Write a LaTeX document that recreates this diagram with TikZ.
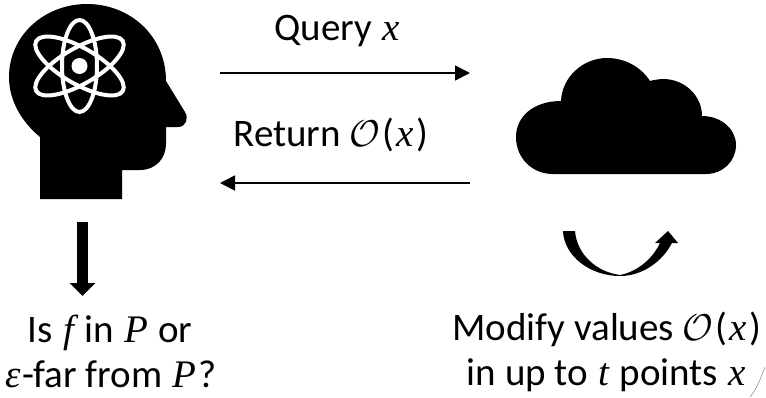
\documentclass[tikz,border=0pt]{standalone}
\usepackage{fontspec}
\usepackage{amsmath}
\setmainfont{Carlito}
\newfontfamily\varfont{Liberation Serif}
\newcommand{\var}[1]{{\varfont\itshape\kern1.5pt #1\kern1.5pt}}
\newcommand{\orcl}{\scalebox{1.5}{$\mathcal{O}$}\kern1pt}
\newcommand{\orclarg}[1]{\kern1pt(\kern1pt\var{#1}\kern1pt)}
\usetikzlibrary{arrows.meta}
\tikzset{label text/.style={font=\fontsize{39}{45}\selectfont,align=center,inner sep=0pt},
	thin arrow/.style={draw,line width=1.6pt,-{Triangle[length=15pt,width=15pt]}},
	atom line/.style={draw=white,line width=4pt},
}

\begin{document}
\begin{tikzpicture}[x=1pt,y=-1pt]
	\useasboundingbox (0,0) rectangle (766,397);
	% head
	\fill (40,199) -- (122,199) -- (122,170) -- (140,170)
		.. controls (156,170) and (166,158) .. (166,144) -- (166,127) -- (178,127)
		.. controls (186,127) and (189,118) .. (185,112) -- (166,81)
		.. controls (166,36) and (130,4) .. (87,4)
		.. controls (44,4) and (9,36) .. (9,77)
		.. controls (9,101) and (22,122) .. (40,137) -- cycle;
	% atom
	\draw[atom line] (79.5,66) ellipse [x radius=17.5,y radius=46];
	\draw[atom line,rotate around={60:(79.5,66)}] (79.5,66) ellipse [x radius=18,y radius=50];
	\draw[atom line,rotate around={-60:(79.5,66)}] (79.5,66) ellipse [x radius=18,y radius=50];
	\fill[white] (79.5,66) ellipse [x radius=8,y radius=8];
	% cloud
	\fill (553,174) .. controls (532,174) and (516,158) .. (516,137)
		.. controls (516,117) and (533,101) .. (561,101)
		.. controls (562,77) and (583,58) .. (607,58)
		.. controls (625,58) and (641,67) .. (650,81)
		.. controls (653,80) and (660,79) .. (663,79)
		.. controls (685,79) and (702,96) .. (702,116)
		.. controls (721,116) and (736,129) .. (736,145)
		.. controls (736,161) and (723,174) .. (706,174) -- cycle;
	\coordinate (query start) at (220,73);
	\coordinate (query end) at (470,73);
	\coordinate (return start) at (470,183);
	\coordinate (return end) at (220,183);
	\coordinate (down start) at (82.5,222);
	\coordinate (down end) at (82.5,296);
	\draw[thin arrow] (query start) -- (query end);
	\draw[thin arrow] (return start) -- (return end);
	\draw[line width=11.5pt,-{Triangle[length=13pt,width=25pt]}] (down start) -- (down end);
	% curved arrow
	\fill (563,231) -- (575,231) .. controls (577,255) and (597,272) .. (620,275)
		.. controls (636,272) and (652,260) .. (660,243) -- (655,243) -- (668,231) -- (678,243) -- (672,243)
		.. controls (662,262) and (642,276) .. (620,276)
		.. controls (590,276) and (564,256) .. (563,231) -- cycle;
	\node[label text] (query) at (338,31) {Query \var{x}};
	\node[label text] (return) at (331,135) {Return \orcl\orclarg{x}};
	\node[label text] (test) at (110,351.5) {Is \var{f} in \var{P} or\\\var{ε}-far from \var{P}?};
	\node[label text] (modify) at (607,351.5) {Modify values \orcl\orclarg{x}\\in up to \var{t} points \var{x}};
	\draw[gray,line width=0.5pt] (765,367) .. controls (760,380) and (756,390) .. (750,397);
\end{tikzpicture}
\end{document}
